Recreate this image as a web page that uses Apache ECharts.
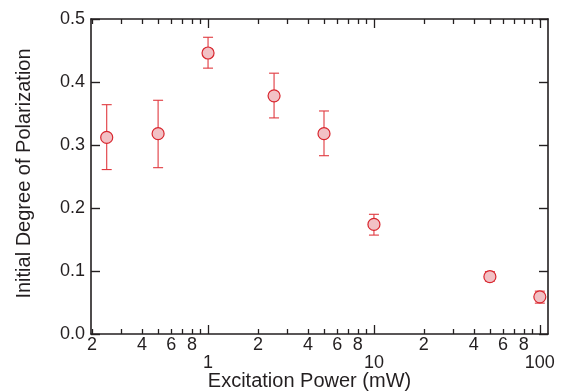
<!DOCTYPE html>
<html>
<head>
<meta charset="utf-8">
<script src="https://cdn.jsdelivr.net/npm/echarts@6/dist/echarts.min.js"></script>
<style>
html,body{margin:0;padding:0;background:#fff;}
#chart{width:565px;height:392px;}
</style>
</head>
<body>
<div id="chart"></div>
<script>
// Data
var power = [0.245, 0.5, 1, 2.5, 5, 10, 50, 100];
var polarization = [0.312, 0.318, 0.446, 0.378, 0.318, 0.174, 0.091, 0.059];
var errLow = [0.261, 0.264, 0.422, 0.343, 0.283, 0.157, 0.084, 0.049];
var errHigh = [0.364, 0.371, 0.471, 0.414, 0.354, 0.190, 0.099, 0.068];

// Tick values
var xMajorTicks = [1, 10, 100];
var xMinorTicks = [0.2, 0.3, 0.4, 0.5, 0.6, 0.7, 0.8, 0.9, 2, 3, 4, 5, 6, 7, 8, 9, 20, 30, 40, 50, 60, 70, 80, 90];
var xMinorLabels = [0.2, 0.4, 0.6, 0.8, 2, 4, 6, 8, 20, 40, 60, 80];
var xMajorLabels = [1, 10, 100];

var xMin = 0.197, xMax = 112;
var axisColor = '#231f20';
var textColor = '#231f20';
var font = 'Liberation Sans, Arial, Helvetica, sans-serif';

var scatterData = power.map(function (p, i) { return [p, polarization[i]]; });
var errData = power.map(function (p, i) { return [p, errLow[i], errHigh[i]]; });

function leading(v) {
  var e = Math.floor(Math.log10(v) + 1e-9);
  return String(Math.round(v / Math.pow(10, e)));
}
function lg(arr) { return arr.map(function (v) { return Math.log10(v); }); }

var baseLog = {
  type: 'log', logBase: 10, min: xMin, max: xMax,
  splitLine: { show: false }, minorTick: { show: false }, minorSplitLine: { show: false }
};
// helper axes in log10 space used only to draw tick marks
function tickAxis(pos, vals, len) {
  return {
    type: 'value', position: pos, min: Math.log10(xMin), max: Math.log10(xMax),
    splitLine: { show: false },
    axisLine: { show: false, onZero: false },
    axisTick: { show: true, inside: true, length: len, customValues: lg(vals), lineStyle: { color: axisColor, width: 1.3 } },
    axisLabel: { show: false }
  };
}

var chart = echarts.init(document.getElementById('chart'), null, { renderer: 'canvas' });
chart.setOption({
  animation: false,
  backgroundColor: '#ffffff',
  grid: { left: 91, right: 17, top: 19, bottom: 58, containLabel: false, outerBoundsMode: 'none' },
  xAxis: [
    Object.assign({}, baseLog, {
      position: 'bottom',
      name: 'Excitation Power (mW)',
      nameLocation: 'middle',
      nameGap: 37,
      nameTextStyle: { fontFamily: font, fontSize: 20, color: textColor, padding: [0, 20, 0, 0] },
      axisLine: { show: true, onZero: false, lineStyle: { color: axisColor, width: 1.6 } },
      axisTick: { show: false },
      axisLabel: { show: true, margin: 2, customValues: xMinorLabels, fontFamily: font, fontSize: 18, color: textColor,
        formatter: function (v) { return leading(v); } }
    }),
    Object.assign({}, baseLog, {
      position: 'bottom',
      axisLine: { show: false, onZero: false },
      axisTick: { show: false },
      axisLabel: { show: true, margin: 20, customValues: xMajorLabels, fontFamily: font, fontSize: 18, color: textColor,
        formatter: function (v) { return String(Math.round(v)); } }
    }),
    Object.assign({}, baseLog, {
      position: 'top',
      axisLine: { show: true, onZero: false, lineStyle: { color: axisColor, width: 1.6 } },
      axisTick: { show: false },
      axisLabel: { show: false }
    }),
    tickAxis('bottom', xMajorTicks, 9),
    tickAxis('bottom', xMinorTicks, 5),
    tickAxis('top', xMajorTicks, 9),
    tickAxis('top', xMinorTicks, 5)
  ],
  yAxis: [
    {
      type: 'value', position: 'left', min: 0, max: 0.5, interval: 0.1,
      name: 'Initial Degree of Polarization',
      nameLocation: 'middle', nameGap: 57,
      nameTextStyle: { fontFamily: font, fontSize: 20, color: textColor, padding: [0, 0, 0, 6] },
      splitLine: { show: false },
      axisLine: { show: true, onZero: false, lineStyle: { color: axisColor, width: 1.6 } },
      axisTick: { show: true, inside: true, length: 9, lineStyle: { color: axisColor, width: 1.4 } },
      axisLabel: { show: true, margin: 6, fontFamily: font, fontSize: 18, color: textColor,
        formatter: function (v) { return v.toFixed(1); } }
    },
    {
      type: 'value', position: 'right', min: 0, max: 0.5, interval: 0.1,
      splitLine: { show: false },
      axisLine: { show: true, onZero: false, lineStyle: { color: axisColor, width: 1.6 } },
      axisTick: { show: true, inside: true, length: 9, lineStyle: { color: axisColor, width: 1.4 } },
      axisLabel: { show: false }
    }
  ],
  series: [
    {
      type: 'custom',
      xAxisIndex: 0, yAxisIndex: 0,
      z: 2,
      data: errData,
      renderItem: function (params, api) {
        var x = api.value(0);
        var lo = api.coord([x, api.value(1)]);
        var hi = api.coord([x, api.value(2)]);
        var hw = 5;
        var style = { stroke: '#e0393f', lineWidth: 1.1, fill: null };
        return {
          type: 'group',
          children: [
            { type: 'line', shape: { x1: lo[0], y1: lo[1], x2: hi[0], y2: hi[1] }, style: style },
            { type: 'line', shape: { x1: lo[0] - hw, y1: lo[1], x2: lo[0] + hw, y2: lo[1] }, style: style },
            { type: 'line', shape: { x1: hi[0] - hw, y1: hi[1], x2: hi[0] + hw, y2: hi[1] }, style: style }
          ]
        };
      }
    },
    {
      type: 'scatter',
      xAxisIndex: 0, yAxisIndex: 0,
      z: 3,
      symbol: 'circle',
      symbolSize: 12,
      data: scatterData,
      itemStyle: { color: '#f2c1c5', borderColor: '#d8262e', borderWidth: 1.2, opacity: 1 }
    }
  ]
});
</script>
</body>
</html>
